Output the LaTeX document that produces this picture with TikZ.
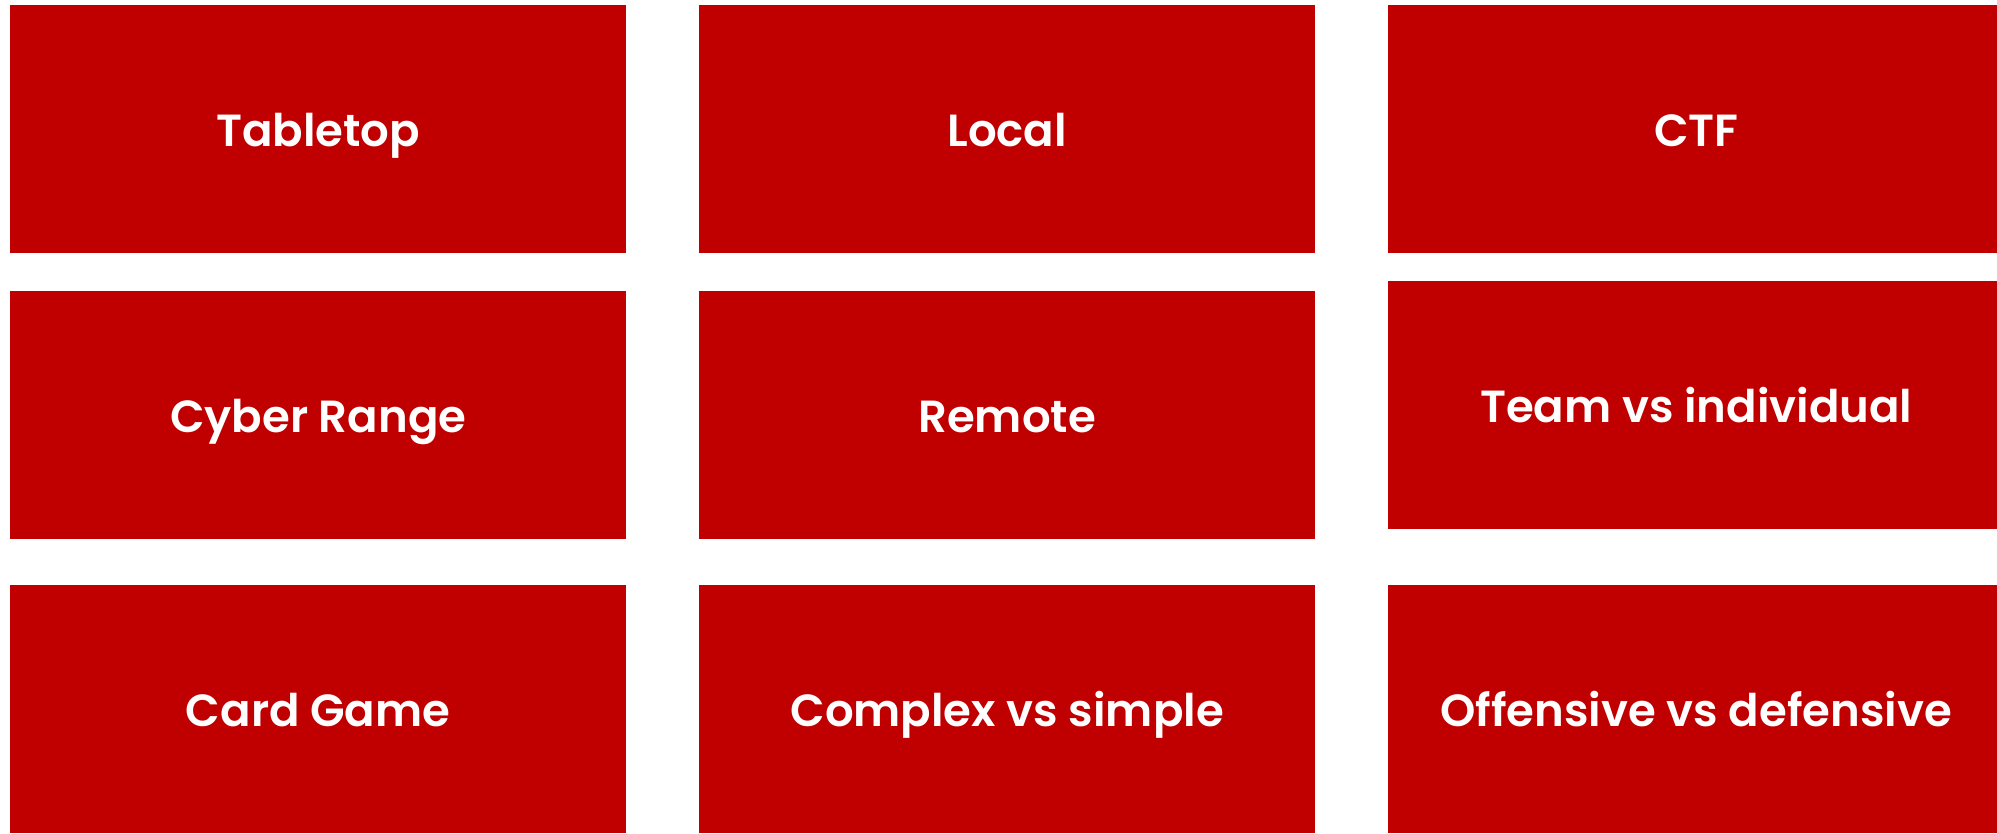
\documentclass[tikz,border=0pt]{standalone}
\usepackage{fontspec}
\setmainfont{Poppins}[BoldFont={* SemiBold}]
\usetikzlibrary{positioning}

\definecolor{tileRed}{RGB}{192,0,0}

\begin{document}
\begin{tikzpicture}[x=1pt, y=-1pt,
  tile/.style={fill=tileRed, draw=none, inner sep=0pt, anchor=north west,
    minimum width=616pt, minimum height=248pt, text=white,
    text height=35.5pt, text depth=0pt,
    font=\fontsize{45}{54}\selectfont\bfseries}]
\clip (0,0) rectangle (1997,833);
\fill[white] (0,0) rectangle (1997,833);
% first column
\node[tile] (tabletop) at (10,5) {Tabletop};
\node[tile] (cyberrange) at (10,291) {Cyber Range};
\node[tile] (cardgame) at (10,585) {Card Game};
% second column
\node[tile] (local) at (699,5) {Local};
\node[tile] (remote) at (699,291) {Remote};
\node[tile] (complex) at (699,585) {Complex vs simple};
% third column, middle tile sits a bit higher
\node[tile] (ctf) at (1388,5) {CTF};
\node[tile] (team) at (1388,281) {Team vs individual};
\node[tile] (offensive) at (1388,585) {Offensive vs defensive};
\end{tikzpicture}
\end{document}
